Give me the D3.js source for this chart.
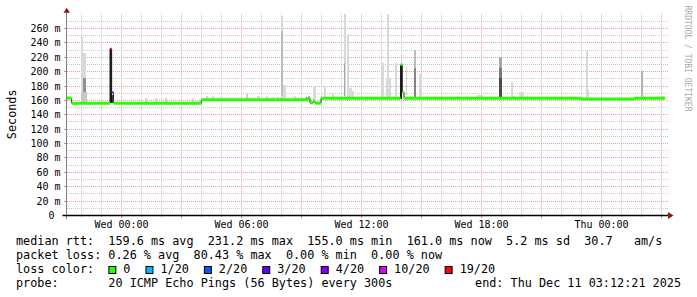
<!DOCTYPE html>
<html><head><meta charset="utf-8">
<script src="https://cdn.jsdelivr.net/npm/d3@7"></script>
<style>
html,body{margin:0;padding:0;background:#fff;}
svg{display:block;}
text{font-family:"DejaVu Sans Mono",monospace;}
</style></head><body>
<svg id="c" width="697" height="297"></svg>
<script>
// ---------- data ----------
const viewStart = "2025-12-09 21:18";
const viewEnd = "2025-12-11 03:18";
const yMax = 280;
const yLabelValues = [0,20,40,60,80,100,120,140,160,180,200,220,240,260];
const yLabelText = ["0","20 m","40 m","60 m","80 m","100 m","120 m","140 m","160 m","180 m","200 m","220 m","240 m","260 m"];
const xLabelTimes = ["2025-12-10 00:00","2025-12-10 06:00","2025-12-10 12:00","2025-12-10 18:00","2025-12-11 00:00"];

// median rtt (ms), step series, and lost pings (of 20)
const medianTime = ["2025-12-09 21:18","2025-12-09 21:32","2025-12-09 23:27","2025-12-09 23:32","2025-12-09 23:37",
  "2025-12-10 04:01","2025-12-10 09:21","2025-12-10 09:27","2025-12-10 09:36","2025-12-10 09:42","2025-12-10 10:00",
  "2025-12-10 13:59","2025-12-10 14:04","2025-12-10 14:09","2025-12-10 23:01","2025-12-11 01:39"];
const medianValue = [162.5,155.5,231.2,170.5,155.5,160.2,163.0,156.0,158.0,155.5,162.3,209.0,170.5,162.3,161.2,162.3];
const medianLoss = [0,0,16,3,0,0,0,0,0,0,0,0,0,0,0,0];
const medianEnd = "2025-12-11 03:12";

// smoke (ping spread): start, end, low ms, high ms, density 0..1
const smokeStart = ["2025-12-09 22:00","2025-12-09 22:07","2025-12-09 22:07","2025-12-09 22:00","2025-12-09 23:27","2025-12-09 23:32",
  "2025-12-10 01:12","2025-12-10 01:42","2025-12-10 02:12","2025-12-10 03:32",
  "2025-12-10 04:15","2025-12-10 04:33","2025-12-10 04:57","2025-12-10 06:15","2025-12-10 06:48","2025-12-10 07:15","2025-12-10 07:33","2025-12-10 07:48","2025-12-10 07:57",
  "2025-12-10 08:00","2025-12-10 08:00","2025-12-10 08:06","2025-12-10 08:32","2025-12-10 08:39","2025-12-10 09:14","2025-12-10 09:36",
  "2025-12-10 10:09","2025-12-10 10:33","2025-12-10 11:09","2025-12-10 11:09","2025-12-10 11:17","2025-12-10 11:24","2025-12-10 11:32","2025-12-10 12:24",
  "2025-12-10 13:00","2025-12-10 13:15","2025-12-10 13:18","2025-12-10 13:42","2025-12-10 14:00","2025-12-10 13:57","2025-12-10 14:15",
  "2025-12-10 14:39","2025-12-10 14:39","2025-12-10 14:54","2025-12-10 16:48","2025-12-10 17:15","2025-12-10 17:48",
  "2025-12-10 18:54","2025-12-10 18:54","2025-12-10 18:54","2025-12-10 19:30","2025-12-10 19:33","2025-12-10 19:54","2025-12-10 20:15",
  "2025-12-10 23:15","2025-12-10 23:18","2025-12-11 00:09","2025-12-11 02:00","2025-12-11 02:03","2025-12-11 03:03"];
const smokeEnd = ["2025-12-09 22:05","2025-12-09 22:15","2025-12-09 22:15","2025-12-09 22:18","2025-12-09 23:32","2025-12-09 23:39",
  "2025-12-10 01:17","2025-12-10 01:47","2025-12-10 02:17","2025-12-10 03:37",
  "2025-12-10 04:20","2025-12-10 04:39","2025-12-10 05:02","2025-12-10 06:20","2025-12-10 06:57","2025-12-10 07:20","2025-12-10 07:38","2025-12-10 07:53","2025-12-10 08:00",
  "2025-12-10 08:06","2025-12-10 08:06","2025-12-10 08:15","2025-12-10 08:37","2025-12-10 08:44","2025-12-10 09:19","2025-12-10 09:45",
  "2025-12-10 10:15","2025-12-10 10:38","2025-12-10 11:15","2025-12-10 11:12","2025-12-10 11:24","2025-12-10 11:32","2025-12-10 11:39","2025-12-10 12:29",
  "2025-12-10 13:09","2025-12-10 13:30","2025-12-10 13:24","2025-12-10 13:47","2025-12-10 14:04","2025-12-10 14:03","2025-12-10 14:18",
  "2025-12-10 14:45","2025-12-10 14:45","2025-12-10 15:00","2025-12-10 16:53","2025-12-10 17:27","2025-12-10 18:06",
  "2025-12-10 19:03","2025-12-10 19:03","2025-12-10 19:03","2025-12-10 19:35","2025-12-10 19:42","2025-12-10 20:09","2025-12-10 20:20",
  "2025-12-10 23:20","2025-12-10 23:24","2025-12-11 00:14","2025-12-11 02:05","2025-12-11 02:09","2025-12-11 03:09"];
const smokeLo = [157,157,162,156,156,156, 157,157,157,157, 160,160,160,160,160,160,160,160,160,
  160,165,160,160,160,158,156, 161,161,161,165,161,161,161,161,
  161,161,161,161,161,161,161, 161,163,161,161,161,161, 161,161,161,161,161,161,161,
  160,160,160,161,161,161];
const smokeHi = [247,225,190,171,231.2,167, 163,163,162,162, 166,165,164,168,166,165,164,164,164,
  277,256,181,166,165,164,180, 180,170,279,211,251,177,172,164,
  211,189,279,211,222,209,207, 229,204,196,165,164,167, 219,205,190,185,165,171,165,
  228,174,164,200,168,165];
const smokeDensity = [0.12,0.12,0.45,0.2,1.0,0.75, 0.15,0.15,0.15,0.15, 0.12,0.12,0.12,0.15,0.12,0.12,0.12,0.12,0.12,
  0.12,0.25,0.12,0.12,0.12,0.6,0.12, 0.12,0.12,0.12,0.35,0.12,0.12,0.12,0.12,
  0.12,0.12,0.12,0.12,0.15,1.0,0.12, 0.25,0.5,0.12,0.12,0.12,0.12, 0.35,0.55,0.75,0.12,0.12,0.12,0.12,
  0.12,0.12,0.12,0.3,0.12,0.12];

const lossLevels = [0,1,2,3,4,10,19];
const lossLabels = ["0","1/20","2/20","3/20","4/20","10/20","19/20"];
const lossColors = ["#26ff00","#00b8ff","#0059ff","#5e00ff","#7e00ff","#dd00ff","#ff0000"];

const rttLine = "median rtt:  159.6 ms avg  231.2 ms max  155.0 ms min  161.0 ms now  5.2 ms sd  30.7   am/s";
const lossLine = "packet loss: 0.26 % avg  80.43 % max  0.00 % min  0.00 % now";
const lossColorTitle = "loss color:";
const probeLine = "probe:       20 ICMP Echo Pings (56 Bytes) every 300s";
const endLine = "end: Thu Dec 11 03:12:21 2025";
const yTitle = "Seconds";
const watermark = "RRDTOOL / TOBI OETIKER";

// ---------- drawing ----------
const parse = d3.timeParse("%Y-%m-%d %H:%M");
const svg = d3.select("#c");
const L = 67, R = 667, T = 13.6, B = 215;
const x = d3.scaleTime().domain([parse(viewStart), parse(viewEnd)]).range([L, R]);
const y = d3.scaleLinear().domain([0, yMax]).range([B, T]);
const lossColor = l => { for (let i = 0; i < lossLevels.length; i++) if (l <= lossLevels[i]) return lossColors[i]; return lossColors[lossColors.length-1]; };
const shade = d3.scaleLinear().domain([0.12,1]).range(["#d9d9d9","#141414"]).clamp(true);

// grid
const g = svg.append("g");
const hours = d3.timeHour.range(parse(viewStart), parse(viewEnd));
hours.forEach(h => {
  if (x(h) < L + 1 || x(h) > 668) return;
  const major = h.getHours() % 3 === 0;
  g.append("line").attr("x1", Math.round(x(h)) + 0.5).attr("x2", Math.round(x(h)) + 0.5)
    .attr("y1", T).attr("y2", B)
    .attr("stroke", major ? "#e3a0a0" : "#c8c8c8").attr("stroke-dasharray", "1,1");
});
d3.range(10, yMax, 10).forEach(v => {
  const major = v % 20 === 0;
  g.append("line").attr("x1", L).attr("x2", 668)
    .attr("y1", Math.round(y(v)) + 0.5).attr("y2", Math.round(y(v)) + 0.5)
    .attr("stroke", major ? "#e3a0a0" : "#c8c8c8").attr("stroke-dasharray", "1,1");
});

// smoke
smokeStart.forEach((s, i) => {
  const x0 = x(parse(s)), x1 = x(parse(smokeEnd[i]));
  svg.append("rect").attr("x", x0).attr("width", Math.max(1, x1 - x0))
    .attr("y", y(smokeHi[i])).attr("height", y(smokeLo[i]) - y(smokeHi[i]))
    .attr("fill", shade(smokeDensity[i])).attr("shape-rendering", "crispEdges");
});

// median
const mg = svg.append("g");
medianTime.forEach((t, i) => {
  const x0 = x(parse(t));
  if (i > 0) {
    mg.append("line").attr("x1", x0).attr("x2", x0)
      .attr("y1", y(medianValue[i - 1])).attr("y2", y(medianValue[i]))
      .attr("stroke", "#222").attr("stroke-width", 1);
  }
});
medianTime.forEach((t, i) => {
  const x0 = x(parse(t));
  const x1 = x(parse(i + 1 < medianTime.length ? medianTime[i + 1] : medianEnd));
  mg.append("line").attr("x1", x0).attr("x2", x1)
    .attr("y1", y(medianValue[i])).attr("y2", y(medianValue[i]))
    .attr("stroke", lossColor(medianLoss[i])).attr("stroke-width", medianLoss[i] > 0 ? 2 : 3);
});

// ticks on axes
hours.forEach(h => {
  if (x(h) < L + 1 || x(h) > 668) return;
  const major = h.getHours() % 3 === 0;
  svg.append("line").attr("x1", Math.round(x(h)) + 0.5).attr("x2", Math.round(x(h)) + 0.5)
    .attr("y1", B).attr("y2", B + (major ? 3 : 2)).attr("stroke", major ? "#e08080" : "#b0b0b0");
});
yLabelValues.forEach(v => {
  svg.append("line").attr("x1", L - 3).attr("x2", L).attr("y1", Math.round(y(v)) + 0.5).attr("y2", Math.round(y(v)) + 0.5)
    .attr("stroke", "#e08080");
});

// axes lines
svg.append("line").attr("x1", 66.5).attr("x2", 66.5).attr("y1", 12).attr("y2", 219).attr("stroke", "#808080");
svg.append("line").attr("x1", 62.5).attr("x2", 669).attr("y1", 215.5).attr("y2", 215.5).attr("stroke", "#000").attr("stroke-width", 1.3);
svg.append("path").attr("d", "M63.5,12.8 L70,12.8 L66.7,7.8 Z").attr("fill", "#8a1a1a");
svg.append("path").attr("d", "M668,212 L668,219 L673.5,215.5 Z").attr("fill", "#8a1a1a");

// y labels
const ya = d3.axisLeft(y).tickValues(yLabelValues).tickSize(0).tickPadding(0)
  .tickFormat((d, i) => yLabelText[i]);
const yg = svg.append("g").attr("transform", "translate(60.5,0)").call(ya);
yg.select(".domain").remove();
yg.selectAll("text").attr("font-family", "DejaVu Sans Mono").attr("font-size", 10).attr("fill", "#000")
  .attr("dy", "0.35em").attr("dx", d => d === 0 ? -6 : 0);

// x labels
const xa = d3.axisBottom(x).tickValues(xLabelTimes.map(parse)).tickSize(0).tickPadding(0)
  .tickFormat(d3.timeFormat("%a %H:%M"));
const xg = svg.append("g").attr("transform", "translate(0,220)").call(xa);
xg.select(".domain").remove();
xg.selectAll("text").attr("font-family", "DejaVu Sans Mono").attr("font-size", 10).attr("fill", "#000").attr("dy", "0.75em");

// y title
svg.append("text").attr("transform", `translate(15.5,${(T + B) / 2}) rotate(-90)`)
  .attr("text-anchor", "middle").attr("font-size", 11.8).text(yTitle);

// watermark
svg.append("text").attr("transform", "translate(685,5.5) rotate(90)")
  .attr("font-size", 8).attr("fill", "#a8a8a8").text(watermark);

// legend
const fs = 11.8, cw = fs * 0.602, lx = 16;
const addLine = (str, yy, xx, anchor) => svg.append("text").attr("x", xx).attr("y", yy)
  .attr("xml:space", "preserve").style("white-space", "pre").attr("font-size", fs)
  .attr("text-anchor", anchor || "start").attr("fill", "#000").text(str);
addLine(rttLine, 245, lx);
addLine(lossLine, 259.3, lx);
addLine(lossColorTitle, 273.3, lx);
addLine(probeLine, 287.3, lx);
addLine(endLine, 287.3, 681, "end");
let px = lx + 13 * cw;
lossLabels.forEach((lab, i) => {
  svg.append("rect").attr("x", px + 0.5).attr("y", 266.5).attr("width", 7).attr("height", 7)
    .attr("fill", lossColors[i]).attr("stroke", "#000").attr("stroke-width", 1);
  addLine(lab, 273.3, px + 15);
  px = px + 15 + lab.length * cw + 15;
});
</script>
</body></html>
